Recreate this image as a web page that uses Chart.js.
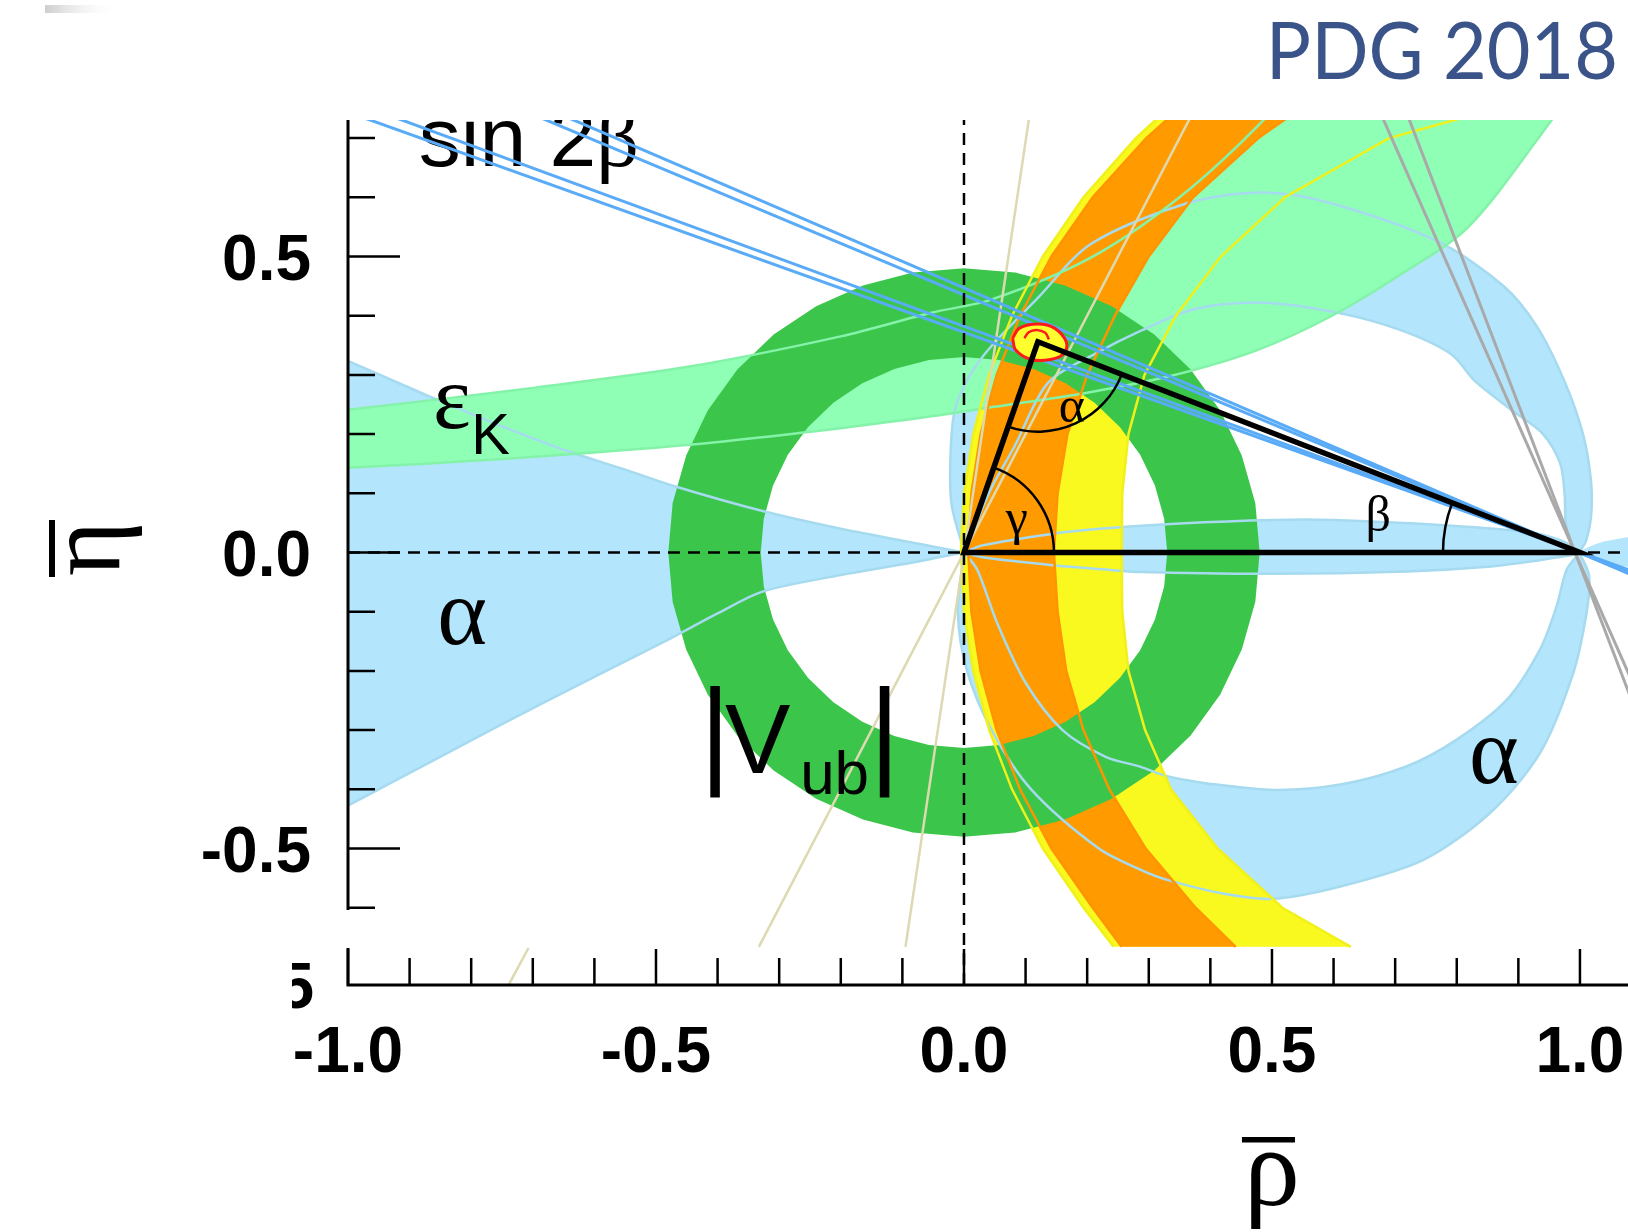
<!DOCTYPE html>
<html>
<head>
<meta charset="utf-8">
<title>CKM unitarity triangle - PDG 2018</title>
<script src="https://cdn.jsdelivr.net/npm/chart.js@4.4.1/dist/chart.umd.min.js"></script>
<style>
  html, body { margin: 0; padding: 0; background: #fff; }
  canvas { display: block; }
</style>
</head>
<body>
<canvas id="myChart" width="1628" height="1232"></canvas>
<script>
// Constraint regions in the (rho-bar, eta-bar) plane.

// axis ranges and tick labels
const rhoRange = [-1.0, 1.078];
const etaRange = [-0.7305, 0.7305];
const tickLabels = ['-1.0', '-0.5', '0.0', '0.5', '1.0'];

// |Vub| ring, outer and inner edge (counter-clockwise)
const vubOuter = [[0.48,0],[0.473,0.083],[0.451,0.164],[0.416,0.24],[0.368,0.309],[0.309,0.368],[0.24,0.416],[0.164,0.451],[0.083,0.473],[0,0.48],
  [-0.083,0.473],[-0.164,0.451],[-0.24,0.416],[-0.309,0.368],[-0.368,0.309],[-0.416,0.24],[-0.451,0.164],[-0.473,0.083],[-0.48,0],
  [-0.473,-0.083],[-0.451,-0.164],[-0.416,-0.24],[-0.368,-0.309],[-0.309,-0.368],[-0.24,-0.416],[-0.164,-0.451],[-0.083,-0.473],[0,-0.48],
  [0.083,-0.473],[0.164,-0.451],[0.24,-0.416],[0.309,-0.368],[0.368,-0.309],[0.416,-0.24],[0.451,-0.164],[0.473,-0.083],[0.48,0]];
const vubInner = [[0.33,0],[0.325,0.057],[0.31,0.113],[0.286,0.165],[0.253,0.212],[0.212,0.253],[0.165,0.286],[0.113,0.31],[0.057,0.325],[0,0.33],
  [-0.057,0.325],[-0.113,0.31],[-0.165,0.286],[-0.212,0.253],[-0.253,0.212],[-0.286,0.165],[-0.31,0.113],[-0.325,0.057],[-0.33,0],
  [-0.325,-0.057],[-0.31,-0.113],[-0.286,-0.165],[-0.253,-0.212],[-0.212,-0.253],[-0.165,-0.286],[-0.113,-0.31],[-0.057,-0.325],[0,-0.33],
  [0.057,-0.325],[0.113,-0.31],[0.165,-0.286],[0.212,-0.253],[0.253,-0.212],[0.286,-0.165],[0.31,-0.113],[0.325,-0.057],[0.33,0]];

// delta m_d band (yellow), left and right edge, top to bottom
const dmdOuter = [[0.342,0.76],[0.279,0.7],[0.194,0.6],[0.128,0.5],[0.078,0.4],[0.041,0.3],[0.015,0.2],[0.0,0.1],[-0.005,0],
  [0.0,-0.1],[0.015,-0.2],[0.041,-0.3],[0.078,-0.4],[0.128,-0.5],[0.194,-0.6],[0.243,-0.666]];
const dmdInner = [[0.9,0.76],[0.69,0.7],[0.521,0.6],[0.417,0.5],[0.344,0.4],[0.293,0.3],[0.267,0.2],[0.257,0.1],[0.256,0],
  [0.257,-0.1],[0.267,-0.2],[0.294,-0.3],[0.336,-0.4],[0.412,-0.5],[0.517,-0.6],[0.628,-0.666]];

// delta m_d & delta m_s band (orange), left and right edge
const dmsOuter = [[0.361,0.76],[0.296,0.7],[0.209,0.6],[0.142,0.5],[0.091,0.4],[0.053,0.3],[0.027,0.2],[0.012,0.1],[0.007,0],
  [0.012,-0.1],[0.027,-0.2],[0.053,-0.3],[0.091,-0.4],[0.142,-0.5],[0.209,-0.6],[0.256,-0.666]];
const dmsInner = [[0.56,0.76],[0.478,0.7],[0.372,0.6],[0.3,0.5],[0.245,0.4],[0.2,0.3],[0.168,0.2],[0.152,0.1],[0.146,0],
  [0.152,-0.1],[0.166,-0.2],[0.194,-0.3],[0.236,-0.4],[0.295,-0.5],[0.376,-0.6],[0.441,-0.666]];

// epsilon_K band, upper and lower edge, left to right
const epsUpper = [[-1.08,0.233],[-1.0,0.241],[-0.7,0.278],[-0.446,0.314],[-0.2,0.365],[-0.053,0.405],[0.044,0.427],[0.206,0.498],[0.35,0.6],[0.485,0.729],[0.5,0.76]];
const epsLower = [[-1.08,0.141],[-1.0,0.143],[-0.75,0.158],[-0.446,0.182],[-0.2,0.21],[-0.053,0.23],[0.049,0.246],[0.2,0.27],[0.335,0.298],
  [0.474,0.341],[0.596,0.399],[0.708,0.469],[0.819,0.55],[0.953,0.729],[0.97,0.76]];

// alpha: wedge to the left of the origin
const alphaWedgeUpper = [[-1.08,0.355],[-1.0,0.323],[-0.862,0.261],[-0.75,0.213],[-0.643,0.171],[-0.55,0.14],[-0.467,0.111],[-0.327,0.07],[-0.2,0.04],[-0.1,0.02],[-0.03,0.006],[0,0]];
const alphaWedgeLower = [[-1.08,-0.47],[-0.997,-0.426],[-0.75,-0.29],[-0.6,-0.21],[-0.476,-0.145],[-0.4,-0.103],[-0.327,-0.066],[-0.2,-0.038],[-0.1,-0.02],[-0.03,-0.006],[0,0]];
// alpha: thin band along the base and beyond (1,0)
const alphaBandTop = [[0,0],[0.03,0.012],[0.14,0.031],[0.22,0.04],[0.35,0.049],[0.5,0.055],[0.6,0.055],[0.78,0.046],[0.92,0.034],[0.97,0.02],[1.0,0.002]];
const alphaBandBottom = [[0,0],[0.03,-0.008],[0.14,-0.021],[0.22,-0.028],[0.287,-0.033],[0.5,-0.036],[0.72,-0.032],[0.85,-0.024],[0.935,-0.013],[0.97,-0.007],[1.0,-0.002]];
const alphaTailTop = [[1.0,0.002],[1.02,0.012],[1.045,0.02],[1.1,0.024]];
const alphaTailBottom = [[1.0,-0.002],[1.02,-0.012],[1.045,-0.019],[1.1,-0.022]];
// alpha: lower crescent from (0,0) to (1,0)
const alphaLowOuter = [[0,-0.002],[-0.01,-0.1],[0.005,-0.2],[0.045,-0.3],[0.109,-0.4],[0.219,-0.5],[0.287,-0.536],[0.33,-0.553],[0.42,-0.576],[0.5,-0.585],
  [0.611,-0.564],[0.746,-0.519],[0.854,-0.44],[0.935,-0.339],[0.989,-0.204],[1.011,-0.1],[1.015,-0.04],[1.0,-0.002]];
const alphaLowInner = [[0.004,-0.004],[0.022,-0.03],[0.055,-0.122],[0.1,-0.22],[0.16,-0.3],[0.23,-0.345],[0.287,-0.362],[0.33,-0.378],[0.395,-0.39],[0.503,-0.401],
  [0.611,-0.392],[0.719,-0.361],[0.8,-0.316],[0.881,-0.249],[0.935,-0.164],[0.962,-0.091],[0.978,-0.03],[0.996,-0.004]];
// alpha: upper arc from (0,0) to (1,0)
const alphaUpOuter = [[0,0.002],[-0.02,0.08],[-0.022,0.16],[-0.015,0.24],[0.01,0.3],[0.044,0.348],[0.12,0.43],[0.206,0.521],[0.362,0.59],[0.485,0.608],
  [0.596,0.59],[0.77,0.525],[0.875,0.451],[0.93,0.382],[0.975,0.289],[1.005,0.2],[1.018,0.12],[1.018,0.06],[1.01,0.02],[1.0,0.002]];
const alphaUpInner = [[0.004,0.004],[0.02,0.05],[0.045,0.11],[0.082,0.179],[0.136,0.286],[0.212,0.335],[0.29,0.376],[0.373,0.411],[0.485,0.422],[0.607,0.405],
  [0.708,0.376],[0.791,0.335],[0.83,0.289],[0.89,0.24],[0.94,0.2],[0.968,0.15],[0.975,0.1],[0.977,0.05],[0.985,0.015],[0.996,0.004]];

// straight constraints
const sin2bLines = [
  [[-1.1,0.781],[1.1,-0.037]],
  [[-1.1,0.802],[1.1,-0.038]],
  [[-1.1,0.914],[1.1,-0.044]],
  [[-1.1,0.939],[1.1,-0.045]]
];
const gammaLines = [
  [[0.108,0.75],[-0.095,-0.666]],
  [[0.375,0.75],[-0.333,-0.666]],
  [[-0.707,-0.668],[-0.739,-0.73]]
];
const greyLines = [
  [[0.673,0.75],[1.1,-0.254]],
  [[0.716,0.75],[1.1,-0.293]]
];

// global fit region at the apex and the triangle itself
const apexRegion = [[0.079,0.362],[0.09,0.379],[0.12,0.386],[0.147,0.379],[0.166,0.356],[0.163,0.337],[0.141,0.326],[0.109,0.326],[0.084,0.342],[0.079,0.362]];
const apexCore = [[0.098,0.362],[0.105,0.372],[0.118,0.376],[0.132,0.371],[0.138,0.36]];
const triangle = [[0,0],[0.12,0.356],[1,0]];

// ---- colours ----
const alphaFill = '#b3e6fc', alphaEdge = '#a6daef';
const epsFill = '#8fffb5', epsEdge = '#85f2aa';
const dmdFill = '#f9f920', dmdEdge = '#f0f01a';
const dmsFill = '#ff9b00', dmsEdge = '#ff9300';
const vubFill = '#3bc64b';

const sans = "'Liberation Sans', Arial, Helvetica, sans-serif";
const serif = "'Liberation Serif', 'Times New Roman', Times, serif";

const toXY = pts => pts.map(p => ({x: p[0], y: p[1]}));
const shape = (a, b) => a.concat(b.slice().reverse());

const layers = [];
function addArea(points, color, tension) {
  layers.push({
    data: toXY(points), showLine: true, fill: 'shape',
    backgroundColor: color, borderColor: 'rgba(0,0,0,0)', borderWidth: 0,
    pointRadius: 0, tension: tension || 0, capBezierPoints: false, clip: 0
  });
}
function addLine(points, color, width, extra) {
  layers.push(Object.assign({
    data: toXY(points), showLine: true, fill: false,
    borderColor: color, borderWidth: width,
    pointRadius: 0, tension: 0, capBezierPoints: false, clip: 0
  }, extra || {}));
}

// fills, bottom to top
addArea(shape(alphaWedgeUpper, alphaWedgeLower), alphaFill, 0.3);
addArea(shape(alphaBandTop, alphaBandBottom), alphaFill, 0.3);
addArea(shape(alphaTailTop, alphaTailBottom), alphaFill, 0.3);
addArea(shape(alphaLowOuter, alphaLowInner), alphaFill, 0.3);
addArea(shape(alphaUpOuter, alphaUpInner), alphaFill, 0.3);
addArea(shape(dmdOuter, dmdInner), dmdFill, 0);
addArea(shape(epsUpper, epsLower), epsFill, 0.3);
addArea(shape(dmsOuter, dmsInner), dmsFill, 0);
addArea(shape(vubOuter, vubInner), vubFill, 0);

// contour lines on top of all fills
[alphaWedgeUpper, alphaWedgeLower, alphaBandTop, alphaBandBottom, alphaLowOuter, alphaLowInner, alphaUpOuter, alphaUpInner]
  .forEach(p => addLine(p, alphaEdge, 2.5, {tension: 0.3}));
[epsUpper, epsLower].forEach(p => addLine(p, epsEdge, 2.5, {tension: 0.3}));
[dmdOuter, dmdInner].forEach(p => addLine(p, dmdEdge, 2.5));
[dmsOuter, dmsInner].forEach(p => addLine(p, dmsEdge, 2.5));

gammaLines.forEach(p => addLine(p, '#ddd9b1', 2.5));
greyLines.forEach(p => addLine(p, '#a9a9a9', 3));
sin2bLines.forEach(p => addLine(p, '#5aabf7', 3));

addLine([[0, etaRange[0]], [0, etaRange[1]]], '#000', 2.5, {borderDash: [12, 8]});
addLine([[rhoRange[0], 0], [rhoRange[1], 0]], '#000', 2.5, {borderDash: [12, 8]});

layers.push({
  data: toXY(apexRegion), showLine: true, fill: 'shape',
  backgroundColor: '#ffff30', borderColor: '#ff1a1a', borderWidth: 3,
  pointRadius: 0, tension: 0.35, capBezierPoints: false, clip: 0
});
addLine(apexCore, '#ff1a1a', 2.5, {tension: 0.3});
addLine(triangle.concat([triangle[0], triangle[1]]), '#000', 5.5, {borderJoinStyle: 'miter'});

layers.forEach((d, i) => { d.order = layers.length - i; });

// ---- extra drawing: labels, angle arcs, frame ----
const decorations = {
  id: 'decorations',
  beforeDatasetsDraw(chart) {
    const {ctx, chartArea: a, scales: {x, y}} = chart;
    ctx.save();
    ctx.beginPath();
    ctx.rect(a.left, a.top, a.right - a.left, a.bottom - a.top);
    ctx.clip();
    ctx.fillStyle = '#000';
    ctx.textAlign = 'left';
    ctx.textBaseline = 'alphabetic';
    const x0 = x.getPixelForValue(-0.885), y0 = y.getPixelForValue(0.653);
    ctx.font = '84px ' + sans;
    ctx.fillText('sin 2', x0, y0);
    const w = ctx.measureText('sin 2').width;
    ctx.font = '84px ' + serif;
    ctx.fillText('β', x0 + w, y0);
    ctx.restore();
  },
  afterDatasetsDraw(chart) {
    const {ctx, scales: {x, y}} = chart;
    const P = p => [x.getPixelForValue(p[0]), y.getPixelForValue(p[1])];
    const [O, A, B] = triangle.map(P);
    const ang = (p, q) => Math.atan2(q[1] - p[1], q[0] - p[0]);
    ctx.save();
    ctx.strokeStyle = '#000';
    ctx.lineWidth = 2.5;
    const arc = (c, r, a1, a2) => { ctx.beginPath(); ctx.arc(c[0], c[1], r, a1, a2); ctx.stroke(); };
    arc(O, 90, ang(O, A), ang(O, B));
    arc(A, 90, ang(A, B), ang(A, O));
    arc(B, 137, ang(B, O), ang(B, A));

    ctx.fillStyle = '#000';
    ctx.textBaseline = 'alphabetic';
    const put = (s, r, e, font, align) => {
      ctx.font = font;
      ctx.textAlign = align || 'left';
      ctx.fillText(s, x.getPixelForValue(r), y.getPixelForValue(e));
    };
    put('α', 0.154, 0.221, '50px ' + serif);
    put('γ', 0.068, 0.032, '50px ' + serif);
    put('β', 0.652, 0.037, '50px ' + serif);
    put('ε', -0.862, 0.211, '90px ' + serif);
    put('K', -0.800, 0.167, '58px ' + sans);
    put('α', -0.855, -0.154, '95px ' + serif);
    put('α', 0.82, -0.39, '95px ' + serif);
    put('|', -0.404, -0.37, '118px ' + sans, 'center');
    put('V', -0.388, -0.373, '98px ' + sans);
    put('ub', -0.266, -0.408, '62px ' + sans);
    put('|', -0.129, -0.37, '118px ' + sans, 'center');
    ctx.restore();
  },
  afterDraw(chart) {
    const {ctx, chartArea: a, scales: {x, y}} = chart;
    ctx.save();
    ctx.strokeStyle = '#000';
    ctx.lineCap = 'butt';
    // frame: left axis (with the small gap near the bottom) and bottom axis
    ctx.lineWidth = 3;
    ctx.beginPath();
    ctx.moveTo(a.left, a.top); ctx.lineTo(a.left, 910);
    ctx.moveTo(a.left, 948); ctx.lineTo(a.left, a.bottom + 1.5);
    ctx.moveTo(a.left - 1.5, a.bottom); ctx.lineTo(a.right, a.bottom);
    ctx.stroke();
    // tick marks pointing into the plot
    ctx.lineWidth = 2.5;
    ctx.beginPath();
    y.ticks.forEach(t => {
      const v = t.value;
      if (v < -0.65) return;
      const major = Math.abs(v * 2 - Math.round(v * 2)) < 1e-6;
      const py = y.getPixelForValue(v);
      ctx.moveTo(a.left, py); ctx.lineTo(a.left + (major ? 52 : 27), py);
    });
    x.ticks.forEach(t => {
      const v = t.value;
      const major = Math.abs(v * 2 - Math.round(v * 2)) < 1e-6;
      const px = x.getPixelForValue(v);
      ctx.moveTo(px, a.bottom); ctx.lineTo(px, a.bottom - (major ? 36 : 27));
    });
    ctx.stroke();

    // leftover fragment of a clipped label
    ctx.save();
    ctx.beginPath(); ctx.rect(292, 955, 40, 60); ctx.clip();
    ctx.fillStyle = '#000';
    ctx.font = 'bold 64px ' + sans;
    ctx.textAlign = 'right';
    ctx.fillText('5', 314, 1008);
    ctx.restore();

    // axis titles with overbars
    ctx.fillStyle = '#000';
    ctx.textAlign = 'center';
    ctx.textBaseline = 'alphabetic';
    const rx = x.getPixelForValue(0.5);
    ctx.font = '112px ' + serif;
    ctx.fillText('ρ', rx, 1205);
    ctx.fillRect(rx - 30, 1137, 53, 5.5);
    const ey = y.getPixelForValue(0);
    ctx.save();
    ctx.translate(119, ey - 4);
    ctx.rotate(-Math.PI / 2);
    ctx.font = '106px ' + serif;
    ctx.fillText('η', 0, 0);
    ctx.fillRect(-28.5, -70, 57, 6);
    ctx.restore();

    // title
    ctx.save();
    ctx.fillStyle = '#3a5489';
    ctx.font = '79px Lato, "Open Sans", sans-serif';
    ctx.textAlign = 'right';
    ctx.translate(1618, 79);
    ctx.scale(0.955, 1);
    ctx.fillText('PDG 2018', 0, 0);
    ctx.restore();

    // faint grey smudge in the top-left corner
    const g = ctx.createLinearGradient(45, 0, 120, 0);
    g.addColorStop(0, 'rgba(200,200,200,0.9)');
    g.addColorStop(1, 'rgba(255,255,255,0)');
    ctx.fillStyle = g;
    ctx.fillRect(45, 5, 75, 8);
    ctx.restore();
  }
};

const tickFont = {family: sans, size: 64, weight: 'bold'};
const labelFor = v => {
  const s = v.toFixed(1);
  return tickLabels.includes(s) && Math.abs(v * 2 - Math.round(v * 2)) < 1e-6 ? s : '';
};
const noPad = s => { s.paddingLeft = 0; s.paddingRight = 0; s.paddingTop = 0; s.paddingBottom = 0; };

const ctx = document.getElementById('myChart').getContext('2d');
const myChart = new Chart(ctx, {
  type: 'scatter',
  data: { datasets: layers },
  options: {
    responsive: false,
    animation: false,
    events: [],
    layout: { padding: { top: 120, right: 0, bottom: 0, left: 0 } },
    plugins: {
      legend: { display: false },
      tooltip: { enabled: false }
    },
    scales: {
      x: {
        type: 'linear', min: rhoRange[0], max: rhoRange[1],
        grid: { display: false, drawTicks: false, tickLength: 0 },
        border: { display: false },
        ticks: { stepSize: 0.1, includeBounds: false, autoSkip: false, maxRotation: 0, padding: 31, color: '#000', font: tickFont, callback: labelFor },
        afterFit: s => { s.height = 247; noPad(s); }
      },
      y: {
        type: 'linear', min: etaRange[0], max: etaRange[1],
        grid: { display: false, drawTicks: false, tickLength: 0 },
        border: { display: false },
        ticks: { stepSize: 0.1, includeBounds: false, autoSkip: false, padding: 37, labelOffset: 6, color: '#000', font: tickFont, callback: labelFor },
        afterFit: s => { s.width = 348; noPad(s); }
      }
    }
  },
  plugins: [decorations]
});
</script>
</body>
</html>
